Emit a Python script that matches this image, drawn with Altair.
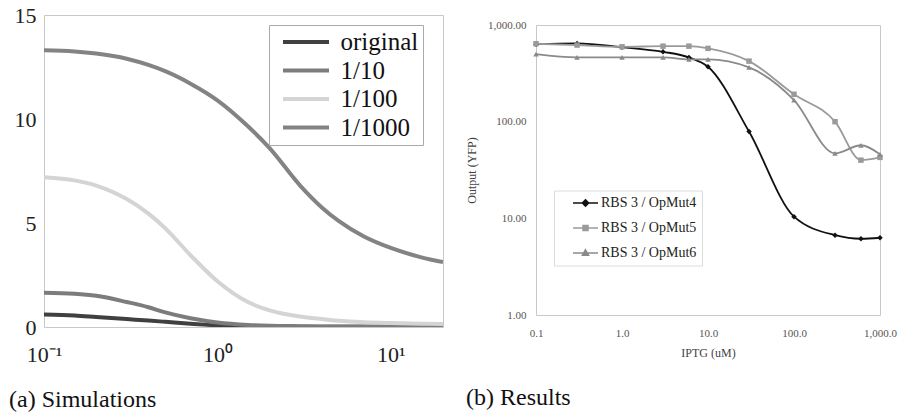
import altair as alt
import pandas as pd

SERIF = "Liberation Serif"

# ---------------- (a) Simulations ----------------
sim_x = [0.1, 0.15, 0.2, 0.3, 0.4, 0.5, 0.7, 1, 1.5, 2, 3, 4, 5, 7, 10, 15, 20]
sim_series = ["original", "1/10", "1/100", "1/1000"]
sim_original = [0.6, 0.55, 0.48, 0.38, 0.31, 0.25, 0.16, 0.08, 0.04, 0.02, 0.01, 0.01, 0.01, 0.01, 0.01, 0.01, 0.01]
sim_1_10 = [1.65, 1.6, 1.5, 1.2, 0.95, 0.7, 0.42, 0.22, 0.1, 0.06, 0.04, 0.03, 0.03, 0.02, 0.02, 0.02, 0.02]
sim_1_100 = [7.2, 7.05, 6.8, 6.15, 5.45, 4.75, 3.45, 2.2, 1.2, 0.8, 0.5, 0.38, 0.3, 0.23, 0.19, 0.16, 0.15]
sim_1_1000 = [13.3, 13.25, 13.15, 12.9, 12.6, 12.3, 11.7, 10.9, 9.65, 8.6, 6.8, 5.75, 5.1, 4.35, 3.8, 3.35, 3.12]
sim_colors = ["#404040", "#7c7c7c", "#d4d4d4", "#838383"]
sim_xticks = [0.1, 1, 10]
sim_xtick_labels = ["10\u207b\u00b9", "10\u2070", "10\u00b9"]
sim_yticks = [0, 5, 10, 15]

# ---------------- (b) Results ----------------
iptg = [0.1, 0.3, 1, 3, 6, 10, 30, 100, 300, 600, 1000]
res_series = ["RBS 3 / OpMut4", "RBS 3 / OpMut5", "RBS 3 / OpMut6"]
opmut4 = [633, 645, 590, 528, 462, 370, 79, 10.4, 6.7, 6.15, 6.3]
opmut5 = [640, 620, 595, 604, 604, 573, 423, 192, 100, 40, 42.7]
opmut6 = [500, 462, 462, 462, 441, 441, 364, 167, 47, 57, 46]
res_colors = ["#111111", "#9a9a9a", "#8a8a8a"]
res_shapes = ["diamond", "square", "triangle-up"]
res_legend_paths = [
    "M-1,0H2.846M0.923,-0.49L1.413,0L0.923,0.49L0.433,0Z",
    "M-1,0H2.846M0.538,-0.385H1.308V0.385H0.538Z",
    "M-1,0H2.846M0.923,-0.5L1.4,0.35H0.446Z",
]
res_xticks = [0.1, 1, 10, 100, 1000]
res_yticks = [1, 10, 100, 1000]

# ---------------- data frames ----------------
sim_rows = []
for name, vals in zip(sim_series, [sim_original, sim_1_10, sim_1_100, sim_1_1000]):
    for xv, yv in zip(sim_x, vals):
        sim_rows.append({"x": xv, "y": yv, "series": name})
sim_df = pd.DataFrame(sim_rows)

res_rows = []
for name, vals in zip(res_series, [opmut4, opmut5, opmut6]):
    for xv, yv in zip(iptg, vals):
        res_rows.append({"iptg": xv, "value": yv, "series": name})
res_df = pd.DataFrame(res_rows)

# label expression for 10^n ticks
expr = ""
for v, lab in zip(sim_xticks, sim_xtick_labels):
    expr += f"datum.value <= {v * 1.5} ? '{lab}' : "
expr += "''"

# ---------------- left panel ----------------
sim_legend = alt.Legend(
    title=None, orient="none", legendX=225, legendY=10,
    symbolType="M-1,0H4.75", symbolSize=256, symbolStrokeWidth=4,
    symbolOffset=5, labelOffset=37,
    labelFont=SERIF, labelFontSize=25, labelColor="#111",
    padding=4.5, rowPadding=2.5,
    strokeColor="#aaaaaa", fillColor="white",
)

left = alt.Chart(sim_df).mark_line(strokeWidth=4, interpolate="monotone", clip=True).encode(
    x=alt.X("x:Q",
            scale=alt.Scale(type="log", domain=[0.1, 20], nice=False),
            axis=alt.Axis(values=sim_xticks, labelExpr=expr, title=None, grid=False,
                          ticks=False, domain=False, labelFont=SERIF, labelFontSize=22,
                          labelColor="#222", labelPadding=17, labelFlush=False,
                          labelOverlap=False)),
    y=alt.Y("y:Q",
            scale=alt.Scale(domain=[0, 15], nice=False),
            axis=alt.Axis(values=sim_yticks, title=None, grid=False, ticks=False,
                          domain=False, labelFont=SERIF, labelFontSize=22,
                          labelColor="#222", labelPadding=8, labelFlush=False)),
    color=alt.Color("series:N", scale=alt.Scale(domain=sim_series, range=sim_colors),
                    legend=sim_legend),
).properties(
    width=399, height=312,
    title=alt.TitleParams("(a) Simulations", orient="bottom", anchor="start", frame="group",
                          dx=-35, offset=23, font=SERIF, fontSize=24, fontWeight="normal",
                          color="#111"),
)

# ---------------- right panel ----------------
x_res = alt.X("iptg:Q",
              scale=alt.Scale(type="log", domain=[0.1, 1000], nice=False),
              axis=alt.Axis(values=res_xticks, format=",.1f", title="IPTG (uM)", grid=False,
                            ticks=False, domain=False, labelFont=SERIF, labelFontSize=11,
                            labelColor="#555", labelPadding=12, labelFlush=False,
                            labelOverlap=False, titleFont=SERIF, titleFontSize=12,
                            titleFontWeight="normal", titleColor="#444", titlePadding=9))
y_res = alt.Y("value:Q",
              scale=alt.Scale(type="log", domain=[1, 1000], nice=False),
              axis=alt.Axis(values=res_yticks, format=",.2f", title="Output (YFP)", grid=False,
                            ticks=False, domain=False, labelFont=SERIF, labelFontSize=11,
                            labelColor="#555", labelPadding=10, labelFlush=False,
                            labelOverlap=False, titleFont=SERIF, titleFontSize=12,
                            titleFontWeight="normal", titleColor="#444", titlePadding=9))

res_color = alt.Color("series:N", scale=alt.Scale(domain=res_series, range=res_colors), legend=None)

res_lines = alt.Chart(res_df).mark_line(strokeWidth=1.8, interpolate="monotone").encode(
    x=x_res, y=y_res, color=res_color, detail="series:N")
res_points = alt.Chart(res_df).mark_point(filled=True, size=30, opacity=1).encode(
    x=x_res, y=y_res, color=res_color,
    shape=alt.Shape("series:N", scale=alt.Scale(domain=res_series, range=res_shapes), legend=None))

res_leg = alt.Legend(
    title=None, orient="none", legendX=18, legendY=165.5, padding=5, rowPadding=10,
    symbolSize=169, symbolStrokeWidth=1.5, symbolOffset=13, labelOffset=14,
    labelFont=SERIF, labelFontSize=14, labelColor="#222",
    strokeColor="#dcdcdc", fillColor="white",
)
res_legend_layer = alt.Chart(res_df).transform_filter("false").mark_point(filled=True, opacity=1).encode(
    shape=alt.Shape("series:N", scale=alt.Scale(domain=res_series, range=res_legend_paths), legend=res_leg),
    fill=alt.Fill("series:N", scale=alt.Scale(domain=res_series, range=res_colors), legend=res_leg),
    stroke=alt.Stroke("series:N", scale=alt.Scale(domain=res_series, range=res_colors), legend=res_leg),
)

right = alt.layer(res_lines, res_points, res_legend_layer).resolve_scale(
    shape="independent", fill="independent", stroke="independent"
).properties(
    width=344, height=290,
    title=alt.TitleParams("(b) Results", orient="bottom", anchor="start", frame="group",
                          dx=-70, offset=28, font=SERIF, fontSize=24, fontWeight="normal",
                          color="#111"),
)

# empty spacer above panel (b) so that its plot sits lower than panel (a)
spacer = alt.Chart(pd.DataFrame({"s": []})).mark_point().properties(
    width=1, height=3, view=alt.ViewBackground(strokeOpacity=0, stroke=None))

right_wrapped = alt.vconcat(spacer, right, spacing=0).resolve_scale(
    color="independent", shape="independent", fill="independent", stroke="independent")

chart = alt.concat(left, right_wrapped, columns=2, spacing=21).resolve_scale(
    color="independent", shape="independent", fill="independent", stroke="independent"
).properties(
    padding={"left": 8, "top": 3, "right": 2, "bottom": 2},
    background="white",
).configure_view(stroke="#c8c8c8")

chart.save("out.html", embed_options={"renderer": "svg", "actions": False})
